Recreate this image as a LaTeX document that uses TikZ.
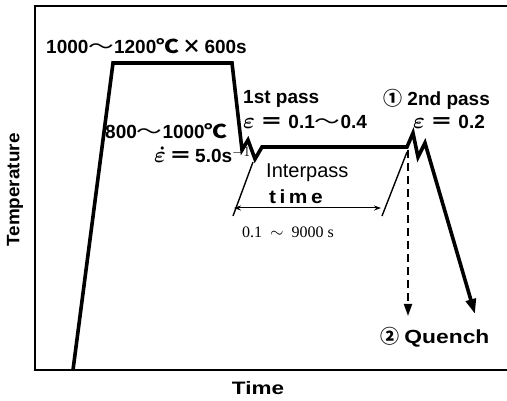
\documentclass[tikz,border=0pt]{standalone}
\usepackage{graphicx}
\usepackage{fontspec}
\setmainfont{Liberation Sans}
\newfontfamily\jp{Noto Sans CJK JP}
\newfontfamily\numserif{Liberation Serif}
\usetikzlibrary{arrows.meta}
\tikzset{
  frameline/.style={line width=1.6pt},
  curve/.style={line width=3.6pt, line join=miter, miter limit=10},
  thinline/.style={line width=1.4pt},
  lbl/.style={inner sep=0pt, anchor=west, font=\bfseries\fontsize{19}{21}\selectfont},
  lblreg/.style={inner sep=0pt, anchor=west, font=\fontsize{20}{22}\selectfont},
  axislbl/.style={inner sep=0pt, font=\bfseries\fontsize{18}{20}\selectfont},
}
\newcommand{\wavech}{{\jp\mdseries\scalebox{1.35}[1]{～}}}
\newcommand{\degch}{{\jp\bfseries\scalebox{1.2}[1]{℃}}}
\newcommand{\eqch}{{\jp\bfseries\scalebox{1.2}[1]{＝}}}
\newcommand{\timesch}{{\jp\bfseries ×}}
\newcommand{\cone}{{\jp ①}}
\newcommand{\ctwo}{{\jp ②}}
\newcommand{\epsdot}{\scalebox{1.3}{{\mathversion{bold}$\dot{\varepsilon}$}}}
\newcommand{\epsb}{\scalebox{1.3}{{\mathversion{bold}$\varepsilon$}}}
\begin{document}
\begin{tikzpicture}[x=1pt,y=-1pt]
\useasboundingbox (0,0) rectangle (507,401);
% frame
\coordinate (ftr) at (507,6);
\coordinate (ftl) at (35,6);
\coordinate (fbl) at (35,370);
\coordinate (fbr) at (507,370);
\draw[frameline] (ftr) -- (ftl) -- (fbl) -- (fbr);
% heat curve
\coordinate (h0) at (73,370);
\coordinate (h1) at (113,63);
\coordinate (h2) at (232,63);
\coordinate (h3) at (242,150);
\coordinate (h4) at (248,140);
\coordinate (h5) at (255,159);
\coordinate (h6) at (262,147);
\coordinate (h7) at (407,147);
\coordinate (h8) at (413,133);
\coordinate (h9) at (418,157);
\coordinate (h10) at (425,143);
\coordinate (h11) at (475,314);
\draw[curve, -{Triangle[length=15pt,width=10pt]}] (h0) -- (h1) -- (h2) -- (h3) -- (h4) -- (h5) -- (h6) -- (h7) -- (h8) -- (h9) -- (h10) -- (h11);
% quench dashed
\coordinate (q0) at (408,150);
\coordinate (q1) at (408,316);
\draw[line width=1.8pt, dash pattern=on 8pt off 5pt, -{Triangle[length=12pt,width=8pt]}] (q0) -- (q1);
% interpass
\coordinate (s1a) at (253,162);
\coordinate (s1b) at (233,216);
\coordinate (s2a) at (407,152);
\coordinate (s2b) at (382,216);
\draw[thinline] (s1a) -- (s1b);
\draw[thinline] (s2a) -- (s2b);
\coordinate (da) at (234,208);
\coordinate (db) at (381,208);
\draw[line width=1pt, {Stealth[length=7pt,width=5pt]}-{Stealth[length=7pt,width=5pt]}] (da) -- (db);
% labels
\node[lbl] (t1) at (46,46) {1000\wavech1200\degch\,\timesch\,600s};
\node[lbl] (t2) at (105,131) {800\wavech1000\degch};
\node[lbl] (t3) at (154,155) {\epsdot\,\eqch\,5.0s$^{-1}$};
\node[lbl] (t4) at (243,99) {1st pass};
\node[lbl] (t5) at (243,122) {\epsb\ \eqch\ 0.1\wavech0.4};
\node[lbl] (t6) at (383,99) {\cone\ 2nd pass};
\node[lbl] (t7) at (413,122) {\epsb\ \eqch\ 0.2};
\node[lblreg] (t8) at (266,173) {Interpass};
\node[lbl] (t9) at (269,197) {\scalebox{1.1}[1]{t\,i\,m\,e}};
\node[inner sep=0pt, anchor=west, font=\numserif\fontsize{16}{18}\selectfont] (t10) at (242,232) {0.1 \ $\sim$ \ 9000 s};
\node[lbl] (t11) at (380,337) {\ctwo\ \scalebox{1.2}[1]{Quench}};
\node[axislbl] (t12) at (258,388) {\scalebox{1.25}[1]{Time}};
\node[axislbl, rotate=90] (t13) at (15,190) {\scalebox{1.05}[1]{Temperature}};
\end{tikzpicture}
\end{document}
